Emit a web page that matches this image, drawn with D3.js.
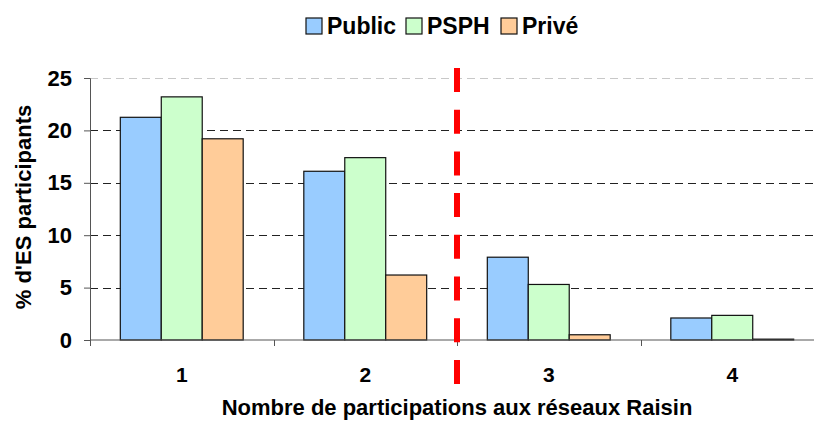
<!DOCTYPE html>
<html>
<head>
<meta charset="utf-8">
<script src="https://cdn.jsdelivr.net/npm/d3@7"></script>
<style>
  body { margin: 0; background: #fff; }
  text { font-family: "Liberation Sans", Arial, sans-serif; font-weight: bold; fill: #000; }
</style>
</head>
<body>
<div id="chart"></div>
<script>
var categories = ['1', '2', '3', '4'];
var series = ['Public', 'PSPH', 'Privé'];
var publicValues = [21.25, 16.1, 7.9, 2.1];
var psphValues = [23.2, 17.4, 5.3, 2.35];
var priveValues = [19.2, 6.2, 0.5, 0.08];
var yTicks = [0, 5, 10, 15, 20, 25];
var colors = ['#99ccff', '#ccffcc', '#ffcc99'];

var width = 814;
var height = 423;
var margin = {left: 90, top: 78, bottom: 83};
var plotRight = 824;

var data = categories.map(function(c, i){
	return {cat: c, values: [publicValues[i], psphValues[i], priveValues[i]]};
});

var svg = d3.select('#chart')
	.append('svg')
	.attr('width', width)
	.attr('height', height);

var x = d3.scaleBand()
	.domain(categories)
	.range([margin.left, plotRight]);

var xInner = d3.scaleBand()
	.domain(series)
	.range([0, x.bandwidth()])
	.paddingOuter(0.74)
	.paddingInner(0);

var y = d3.scaleLinear()
	.domain([0, 25])
	.range([height - margin.bottom, margin.top]);

// gridlines
svg.append('g')
	.selectAll('line')
	.data(yTicks.filter(function(d){ return d > 0; }))
	.enter()
	.append('line')
	.attr('x1', margin.left)
	.attr('x2', plotRight)
	.attr('y1', function(d){ return Math.round(y(d)) + 0.5; })
	.attr('y2', function(d){ return Math.round(y(d)) + 0.5; })
	.attr('stroke', function(d){ return d === 25 ? '#c8c8c8' : '#222'; })
	.attr('stroke-width', 1)
	.attr('stroke-dasharray', '8,5');

// bars
var groups = svg.selectAll('.group')
	.data(data)
	.enter()
	.append('g')
	.attr('class', 'group')
	.attr('transform', function(d){ return 'translate(' + x(d.cat) + ',0)'; });

groups.selectAll('rect')
	.data(function(d){
		return d.values.map(function(v, i){ return {s: series[i], v: v, i: i}; });
	})
	.enter()
	.append('rect')
	.attr('x', function(d){ return xInner(d.s); })
	.attr('y', function(d){ return y(d.v); })
	.attr('width', xInner.bandwidth())
	.attr('height', function(d){ return y(0) - y(d.v); })
	.attr('fill', function(d){ return colors[d.i]; })
	.attr('stroke', '#111')
	.attr('stroke-width', 1.2);

// y axis
var yAxis = svg.append('g')
	.attr('transform', 'translate(' + margin.left + ',0)')
	.call(d3.axisLeft(y).tickValues(yTicks).tickSize(6).tickPadding(12));
yAxis.select('.domain').attr('stroke', '#555');
yAxis.selectAll('.tick line').attr('stroke', '#555');
yAxis.selectAll('text').style('font-size', '22px').attr('fill', '#000');

// x axis
var xAxisG = svg.append('g')
	.attr('transform', 'translate(0,' + y(0) + ')');
xAxisG.append('line')
	.attr('x1', margin.left)
	.attr('x2', plotRight)
	.attr('stroke', '#555');
xAxisG.selectAll('.xtick')
	.data(categories)
	.enter()
	.append('line')
	.attr('x1', function(d){ return Math.round(x(d)) + 0.5; })
	.attr('x2', function(d){ return Math.round(x(d)) + 0.5; })
	.attr('y1', 0)
	.attr('y2', 6)
	.attr('stroke', '#555');
xAxisG.selectAll('.xlabel')
	.data(categories)
	.enter()
	.append('text')
	.attr('x', function(d){ return x(d) + x.bandwidth() / 2; })
	.attr('y', 42)
	.attr('text-anchor', 'middle')
	.style('font-size', '21px')
	.text(function(d){ return d; });

// red separator between 2 and 3
var sepX = x('3');
svg.append('line')
	.attr('x1', sepX)
	.attr('x2', sepX)
	.attr('y1', 68)
	.attr('y2', 387)
	.attr('stroke', '#ff0000')
	.attr('stroke-width', 6)
	.attr('stroke-dasharray', '24,17.7');

// axis titles
svg.append('text')
	.attr('x', (margin.left + plotRight) / 2)
	.attr('y', 415)
	.attr('text-anchor', 'middle')
	.style('font-size', '22px')
	.text('Nombre de participations aux réseaux Raisin');

svg.append('text')
	.attr('transform', 'translate(31,207) rotate(-90)')
	.attr('text-anchor', 'middle')
	.style('font-size', '22px')
	.text("% d'ES participants");

// legend
var legendX = [306, 406, 501];
var legend = svg.selectAll('.legend')
	.data(series)
	.enter()
	.append('g')
	.attr('class', 'legend')
	.attr('transform', function(d, i){ return 'translate(' + legendX[i] + ',18)'; });

legend.append('rect')
	.attr('width', 16)
	.attr('height', 16)
	.attr('fill', function(d, i){ return colors[i]; })
	.attr('stroke', '#111')
	.attr('stroke-width', 1.2);

legend.append('text')
	.attr('x', 21)
	.attr('y', 16)
	.style('font-size', '23px')
	.text(function(d){ return d; });
</script>
</body>
</html>
